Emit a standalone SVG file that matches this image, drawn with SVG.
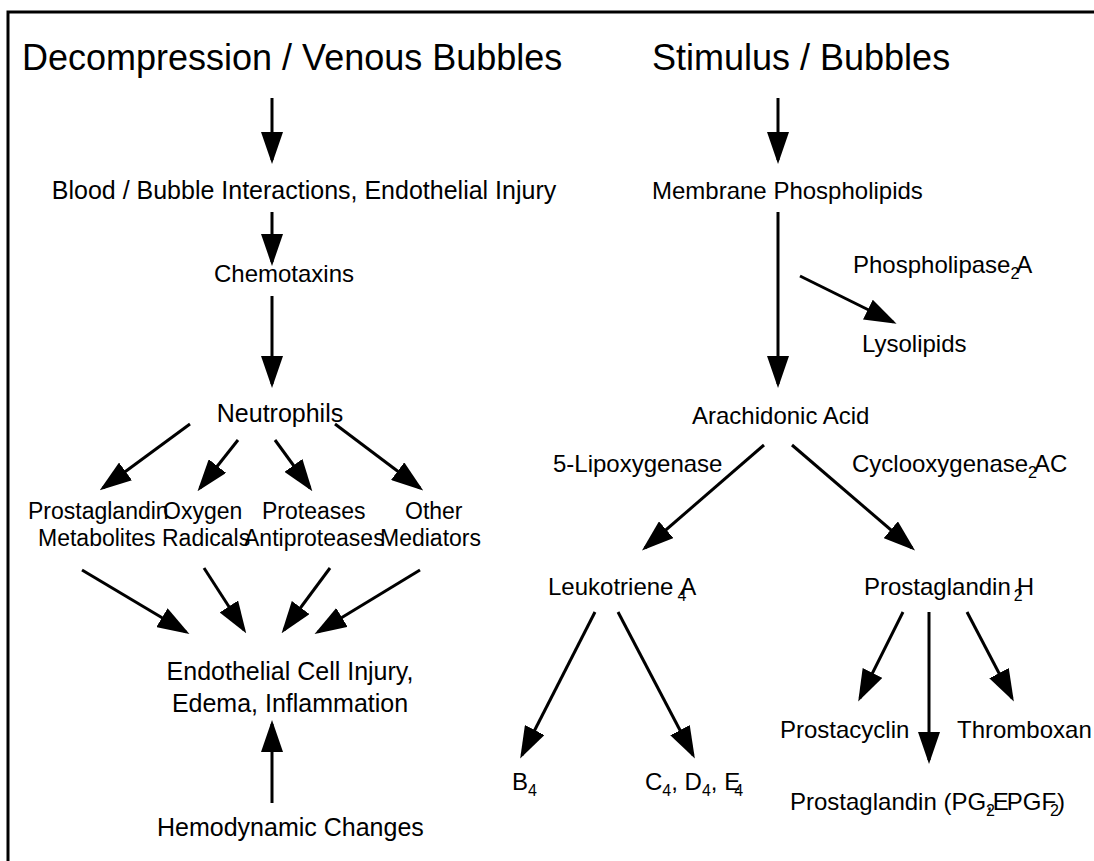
<svg xmlns="http://www.w3.org/2000/svg" width="1094" height="861" viewBox="0 0 1094 861">
<style>
text{font-family:"Liberation Sans",Arial,sans-serif;fill:#000;font-size:24px}
.title{font-size:36px}
.big{font-size:25px}
.row{font-size:23px}
.c{text-anchor:middle}
.sub{font-size:16px}
.ln{stroke:#000;stroke-width:3;fill:none;marker-end:url(#ah)}
.frame{stroke:#000;stroke-width:3;fill:none}
</style>
<defs>
<marker id="ah" markerUnits="userSpaceOnUse" markerWidth="32" markerHeight="22" refX="28" refY="11" orient="auto">
<path d="M0,0 L32,11 L0,22 z" fill="#000"/>
</marker>
</defs>
<rect width="1094" height="861" fill="#fff"/>
<g id="frame">
<path class="frame" d="M8,861 L8,12 L1094,12"/>
</g>
<g id="connectors">
<line class="ln" x1="272" y1="98" x2="272" y2="160"/>
<line class="ln" x1="272" y1="212" x2="272" y2="262"/>
<line class="ln" x1="272" y1="296" x2="272" y2="384"/>
<line class="ln" x1="190" y1="424" x2="103" y2="488"/>
<line class="ln" x1="238" y1="440" x2="200" y2="488"/>
<line class="ln" x1="275" y1="440" x2="310" y2="488"/>
<line class="ln" x1="335" y1="424" x2="420" y2="488"/>
<line class="ln" x1="82" y1="570" x2="186" y2="632"/>
<line class="ln" x1="204" y1="568" x2="244" y2="630"/>
<line class="ln" x1="330" y1="568" x2="284" y2="630"/>
<line class="ln" x1="420" y1="570" x2="318" y2="632"/>
<line class="ln" x1="272" y1="803" x2="272" y2="724"/>
<line class="ln" x1="778" y1="98" x2="778" y2="160"/>
<line class="ln" x1="778" y1="212" x2="778" y2="384"/>
<line class="ln" x1="800" y1="276" x2="893" y2="322"/>
<line class="ln" x1="764" y1="445" x2="645" y2="548"/>
<line class="ln" x1="792" y1="445" x2="912" y2="548"/>
<line class="ln" x1="595" y1="612" x2="522" y2="755"/>
<line class="ln" x1="618" y1="612" x2="693" y2="755"/>
<line class="ln" x1="903" y1="612" x2="860" y2="698"/>
<line class="ln" x1="929" y1="612" x2="929" y2="760"/>
<line class="ln" x1="967" y1="612" x2="1012" y2="698"/>
</g>
<g id="title-left"><text class="title" x="22" y="70">Decompression / Venous Bubbles</text></g>
<g id="title-right"><text class="title" x="652" y="70">Stimulus / Bubbles</text></g>
<g id="blood"><text class="c big" x="304" y="199">Blood / Bubble Interactions, Endothelial Injury</text></g>
<g id="chemotaxins"><text class="c" x="284" y="282">Chemotaxins</text></g>
<g id="neutrophils"><text class="c big" x="280" y="422">Neutrophils</text></g>
<g id="pg-metabolites"><text class="row" x="28" y="519">Prostaglandin</text><text class="row" x="38" y="546">Metabolites</text></g>
<g id="oxygen-radicals"><text class="row" x="163" y="519">Oxygen</text><text class="row" x="162" y="546">Radicals</text></g>
<g id="proteases"><text class="row" x="262" y="519">Proteases</text><text class="row" x="244" y="546">Antiproteases</text></g>
<g id="other-mediators"><text class="row" x="405" y="519">Other</text><text class="row" x="380" y="546">Mediators</text></g>
<g id="endothelial"><text class="c big" x="290" y="680">Endothelial Cell Injury,</text><text class="c big" x="290" y="712">Edema, Inflammation</text></g>
<g id="hemodynamic"><text class="big" x="157" y="836">Hemodynamic Changes</text></g>
<g id="membrane"><text x="652" y="199">Membrane Phospholipids</text></g>
<g id="phospholipase"><text x="853" y="273">Phospholipase<tspan class="sub" dy="6">2</tspan><tspan dx="-3" dy="-6">A</tspan></text></g>
<g id="lysolipids"><text x="862" y="352">Lysolipids</text></g>
<g id="arachidonic"><text x="692" y="424">Arachidonic Acid</text></g>
<g id="lipoxygenase"><text x="553" y="472">5-Lipoxygenase</text></g>
<g id="cyclooxygenase"><text x="852" y="472">Cyclooxygenase<tspan class="sub" dy="6">2</tspan><tspan dx="-3" dy="-6">AC</tspan></text></g>
<g id="leukotriene"><text x="548" y="595">Leukotriene<tspan class="sub" dx="4" dy="6">4</tspan><tspan dx="-6" dy="-6">A</tspan></text></g>
<g id="pgh"><text x="864" y="595">Prostaglandin<tspan class="sub" dx="3" dy="6">2</tspan><tspan dx="-6" dy="-6">H</tspan></text></g>
<g id="b4"><text x="512" y="790">B<tspan class="sub" dy="6">4</tspan></text></g>
<g id="cde4"><text x="645" y="790">C<tspan class="sub" dy="6">4</tspan><tspan dy="-6">, D</tspan><tspan class="sub" dy="6">4</tspan><tspan dy="-6">, E</tspan><tspan class="sub" dx="-6" dy="6">4</tspan></text></g>
<g id="prostacyclin"><text x="780" y="738">Prostacyclin</text></g>
<g id="thromboxan"><text x="957" y="738">Thromboxan</text></g>
<g id="pge"><text x="790" y="810">Prostaglandin (PG<tspan class="sub" dy="6">2</tspan><tspan dx="-9" dy="-6">,E</tspan><tspan dx="-2">PGF</tspan><tspan class="sub" dx="-6" dy="6">2</tspan><tspan dx="-2" dy="-6">)</tspan></text></g>
</svg>
